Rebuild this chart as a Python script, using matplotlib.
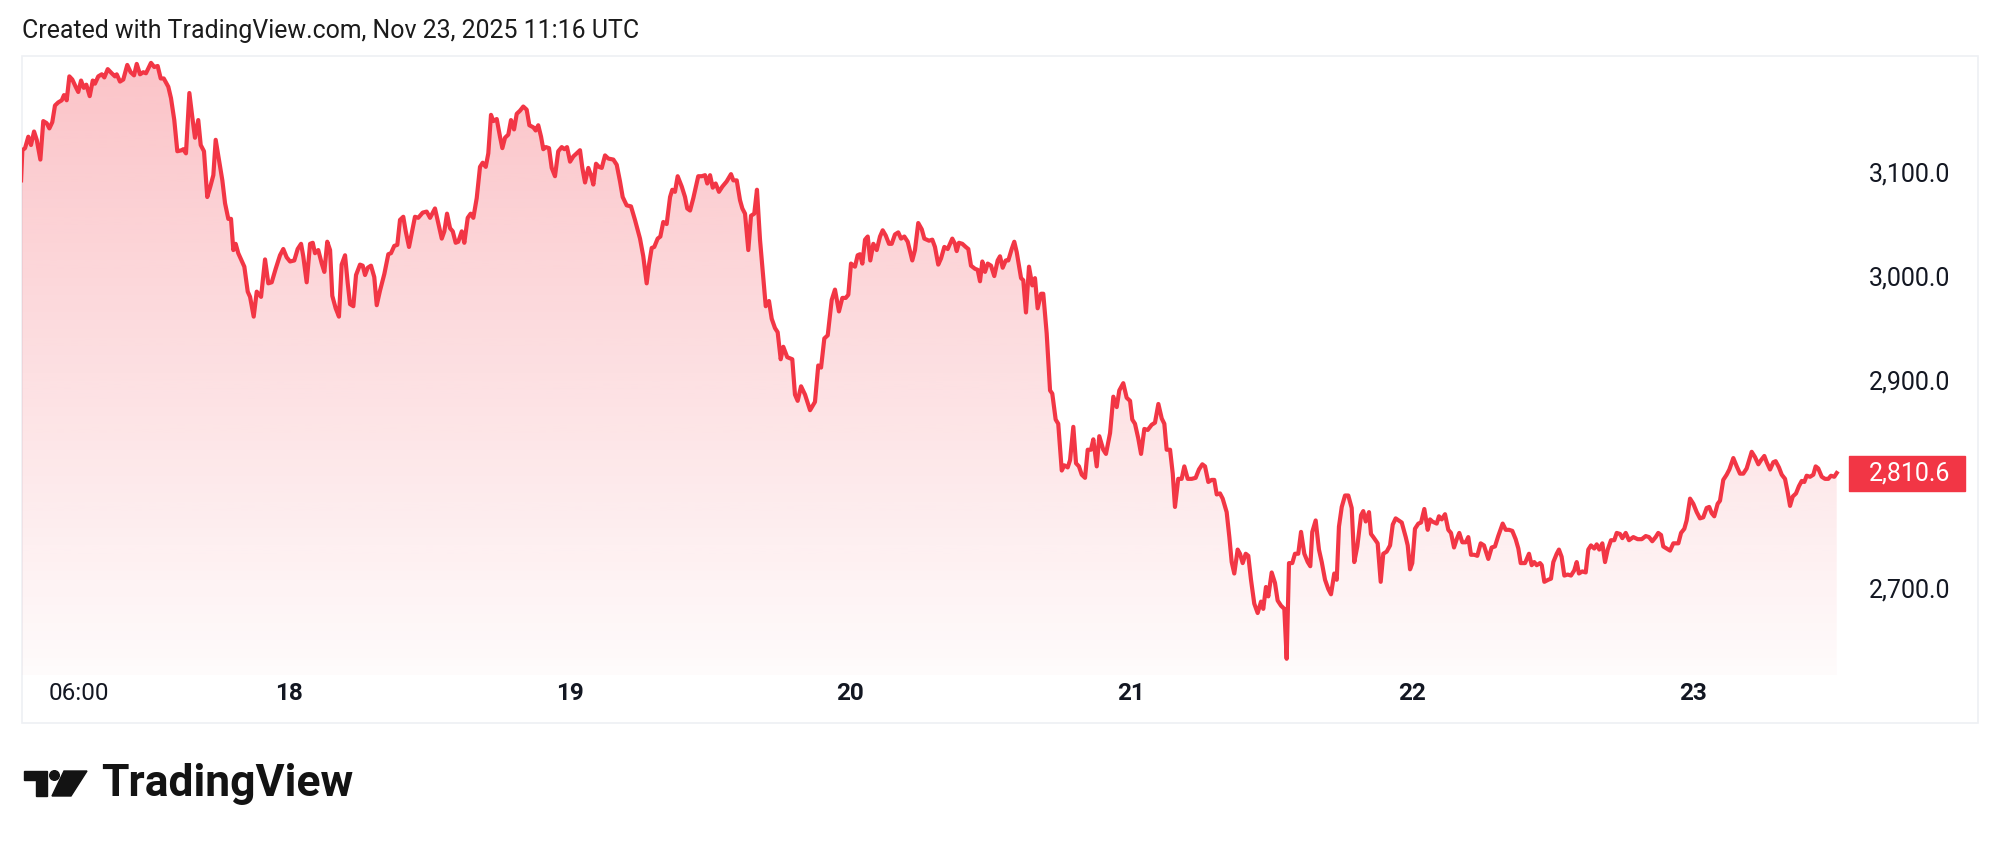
import numpy as np
import matplotlib
matplotlib.use("Agg")
import matplotlib.pyplot as plt
from matplotlib.patches import Rectangle, Polygon, Circle
from matplotlib.transforms import blended_transform_factory

plt.rcParams['font.family'] = ['Roboto', 'DejaVu Sans']

# hours since 2025-11-17 00:00
hours = [
    1.09, 1.20, 1.43, 1.71, 1.94, 2.20, 2.43, 2.74, 2.99, 3.28,
    3.51, 3.76, 3.99, 4.27, 4.57, 4.76, 4.99, 5.22, 5.47, 5.76,
    5.98, 6.22, 6.45, 6.67, 6.96, 7.22, 7.41, 7.69, 7.99, 8.21,
    8.50, 8.84, 9.12, 9.27, 9.55, 9.83, 10.17, 10.46, 10.75, 10.98,
    11.26, 11.54, 11.77, 12.20, 12.48, 12.77, 13.03, 13.29, 13.68, 13.91,
    14.19, 14.45, 14.83, 14.96, 15.19, 15.48, 15.73, 15.96, 16.24, 16.45,
    16.73, 17.01, 17.27, 17.53, 17.73, 18.01, 18.30, 18.53, 18.81, 19.04,
    19.24, 19.44, 19.66, 20.18, 20.47, 20.67, 20.98, 21.24, 21.61, 21.95,
    22.23, 22.52, 22.86, 23.23, 23.51, 23.80, 24.09, 24.45, 24.74, 25.03,
    25.22, 25.51, 25.80, 26.03, 26.22, 26.50, 26.80, 27.02, 27.27, 27.51,
    27.70, 27.99, 28.27, 28.50, 28.79, 29.02, 29.22, 29.50, 29.73, 30.07,
    30.30, 30.50, 30.73, 31.01, 31.29, 31.50, 31.78, 32.15, 32.49, 32.72,
    33.00, 33.26, 33.49, 33.77, 33.98, 34.26, 34.54, 34.77, 35.05, 35.43,
    35.77, 36.06, 36.48, 36.76, 37.06, 37.28, 37.51, 37.77, 38.00, 38.25,
    38.47, 38.77, 38.99, 39.28, 39.53, 39.76, 40.05, 40.33, 40.56, 40.82,
    41.04, 41.27, 41.47, 41.76, 42.04, 42.24, 42.47, 42.75, 42.98, 43.24,
    43.47, 43.75, 44.03, 44.32, 44.55, 44.89, 45.09, 45.31, 45.55, 45.74,
    45.97, 46.23, 46.46, 46.74, 47.02, 47.32, 47.54, 47.77, 48.03, 48.31,
    48.88, 49.08, 49.31, 49.59, 49.82, 50.02, 50.25, 50.50, 50.74, 51.02,
    51.30, 51.73, 52.02, 52.30, 52.53, 52.87, 53.24, 53.58, 54.01, 54.29,
    54.58, 54.78, 55.01, 55.23, 55.52, 55.75, 56.00, 56.29, 56.58, 56.77,
    57.00, 57.23, 57.58, 57.86, 58.05, 58.29, 58.57, 58.99, 59.29, 59.57,
    59.76, 60.00, 60.23, 60.48, 60.76, 61.05, 61.42, 61.79, 61.99, 62.28,
    62.56, 62.76, 62.99, 63.27, 63.50, 63.78, 64.01, 64.27, 64.55, 64.76,
    65.04, 65.27, 65.55, 65.78, 66.04, 66.26, 66.60, 67.03, 67.26, 67.49,
    67.78, 68.12, 68.55, 68.97, 69.25, 69.49, 69.77, 70.06, 70.40, 70.68,
    71.02, 71.31, 71.60, 71.82, 72.05, 72.39, 72.62, 72.82, 73.02, 73.25,
    73.48, 73.70, 73.96, 74.25, 74.53, 74.76, 75.02, 75.30, 75.53, 75.81,
    76.09, 76.33, 76.61, 76.90, 77.29, 77.52, 77.80, 78.10, 78.32, 78.72,
    79.00, 79.23, 79.51, 79.75, 80.03, 80.32, 80.71, 80.94, 81.09, 81.28,
    81.57, 81.86, 82.08, 82.31, 82.65, 82.88, 83.08, 83.28, 83.51, 83.74,
    84.02, 84.30, 84.59, 84.79, 85.02, 85.28, 85.50, 85.79, 86.01, 86.22,
    86.59, 86.78, 87.01, 87.27, 87.55, 87.78, 88.01, 88.30, 88.49, 88.78,
    89.07, 89.26, 89.55, 89.77, 90.07, 90.29, 90.58, 90.78, 91.06, 91.29,
    91.54, 91.78, 92.06, 92.29, 92.57, 92.77, 93.06, 93.28, 93.62, 93.85,
    94.20, 94.48, 94.77, 94.99, 95.33, 95.62, 95.91, 96.10, 96.33, 96.61,
    96.85, 97.13, 97.42, 97.76, 98.04, 98.33, 98.62, 98.84, 99.04, 99.33,
    99.56, 99.75, 100.03, 100.32, 100.55, 100.84, 101.18, 101.52, 101.80, 102.09,
    102.32, 102.60, 102.89, 103.11, 103.32, 103.60, 103.83, 104.17, 104.40, 104.60,
    104.82, 105.11, 105.31, 105.54, 105.80, 106.02, 106.25, 106.53, 106.82, 107.11,
    107.30, 107.53, 107.73, 108.02, 108.30, 108.53, 108.82, 109.10, 109.30, 109.50,
    109.78, 110.01, 110.29, 110.53, 110.81, 111.10, 111.32, 111.49, 111.78, 112.06,
    112.30, 112.58, 112.86, 113.09, 113.37, 113.58, 113.77, 114.01, 114.29, 114.57,
    114.86, 115.08, 115.34, 115.66, 115.85, 116.06, 116.34, 116.51, 116.71, 117.08,
    117.34, 117.56, 117.85, 118.14, 118.37, 118.62, 119.14, 119.48, 119.65, 119.85,
    120.04, 120.27, 120.56, 120.79, 121.07, 121.36, 121.56, 121.75, 122.13, 122.32,
    122.56, 122.84, 123.12, 123.35, 123.61, 123.84, 124.06, 124.32, 124.61, 124.83,
    125.06, 125.34, 125.60, 125.89, 126.17, 126.54, 126.83, 127.11, 127.39, 127.77,
    128.03, 128.31, 128.59, 128.88, 129.11, 129.31, 129.68, 130.02, 130.25, 130.47,
    130.68, 130.96, 131.11, 131.33, 131.67, 131.90, 132.10, 132.39, 132.58, 132.81,
    133.04, 133.33, 133.61, 133.89, 134.10, 134.29, 134.58, 134.87, 135.09, 135.32,
    135.60, 135.81, 136.03, 136.29, 136.52, 136.75, 137.03, 137.31, 137.52, 137.80,
    138.00, 138.29, 138.57, 138.94, 139.31, 139.66, 140.00, 140.28, 140.56, 140.85,
    141.07, 141.31, 141.50, 141.79, 142.08, 142.36, 142.79, 143.02, 143.30, 143.50,
    143.79, 144.07, 144.36, 144.64, 144.92, 145.21, 145.43, 145.64, 145.86, 146.15,
    146.35, 146.63, 146.92, 147.15, 147.49, 147.78, 148.06, 148.34, 148.63, 149.06,
    149.34, 149.63, 149.86, 150.14, 150.34, 150.63, 150.91, 151.11, 151.39, 151.63,
    151.91, 152.14, 152.34, 152.57, 152.85, 153.10, 153.34, 153.56, 153.76, 154.05,
    154.33, 154.53, 154.75, 155.05, 155.33, 155.61, 155.84, 156.12, 156.33,
]

prices = [
    3092, 3121, 3123, 3134, 3126, 3139, 3131, 3112, 3149, 3147,
    3142, 3148, 3164, 3167, 3169, 3174, 3169, 3192, 3189, 3182,
    3177, 3188, 3181, 3184, 3173, 3188, 3185, 3192, 3194, 3191,
    3199, 3195, 3192, 3194, 3187, 3189, 3203, 3196, 3193, 3204,
    3194, 3196, 3195, 3205, 3201, 3202, 3190, 3190, 3182, 3171,
    3150, 3120, 3121, 3122, 3118, 3176, 3153, 3133, 3150, 3126,
    3120, 3076, 3086, 3097, 3131, 3112, 3092, 3070, 3055, 3055,
    3025, 3031, 3022, 3009, 2985, 2980, 2961, 2985, 2980, 3016,
    2993, 2994, 3007, 3020, 3026, 3018, 3014, 3015, 3026, 3031,
    3019, 2994, 3031, 3032, 3022, 3025, 3012, 3004, 3033, 3025,
    2981, 2969, 2961, 3011, 3020, 2993, 2973, 2971, 3001, 3011,
    3010, 3001, 3008, 3010, 2999, 2972, 2986, 3002, 3021, 3022,
    3029, 3030, 3054, 3057, 3043, 3028, 3044, 3057, 3056, 3061,
    3062, 3056, 3065, 3051, 3036, 3043, 3060, 3046, 3043, 3032,
    3033, 3043, 3032, 3056, 3060, 3056, 3075, 3105, 3109, 3105,
    3118, 3155, 3149, 3151, 3134, 3123, 3133, 3136, 3150, 3141,
    3156, 3159, 3163, 3160, 3145, 3143, 3140, 3145, 3134, 3122,
    3124, 3123, 3104, 3096, 3120, 3124, 3122, 3124, 3110, 3115,
    3121, 3104, 3090, 3104, 3097, 3088, 3108, 3105, 3104, 3116,
    3113, 3112, 3107, 3091, 3076, 3068, 3067, 3054, 3036, 3019,
    2993, 3011, 3027, 3028, 3036, 3038, 3052, 3050, 3076, 3083,
    3081, 3096, 3086, 3076, 3065, 3063, 3075, 3096, 3096, 3097,
    3089, 3097, 3085, 3089, 3081, 3086, 3091, 3098, 3092, 3092,
    3073, 3065, 3060, 3025, 3058, 3060, 3083, 3035, 2999, 2971,
    2976, 2959, 2950, 2946, 2920, 2932, 2922, 2920, 2886, 2880,
    2894, 2886, 2871, 2879, 2914, 2912, 2940, 2943, 2977, 2987,
    2966, 2979, 2979, 2982, 3012, 3009, 3020, 3021, 3012, 3035,
    3038, 3015, 3031, 3025, 3038, 3044, 3039, 3031, 3031, 3040,
    3042, 3036, 3038, 3033, 3015, 3025, 3051, 3045, 3036, 3034,
    3035, 3028, 3011, 3017, 3028, 3026, 3036, 3031, 3024, 3032,
    3031, 3028, 3026, 3010, 3007, 3006, 2995, 3014, 3004, 3012,
    3010, 3000, 3015, 3019, 3008, 3015, 3015, 3026, 3033, 3023,
    2998, 2996, 2965, 3009, 2991, 2998, 2969, 2983, 2983, 2945,
    2890, 2887, 2862, 2858, 2813, 2818, 2816, 2823, 2855, 2820,
    2817, 2809, 2806, 2833, 2833, 2843, 2817, 2846, 2833, 2829,
    2849, 2884, 2874, 2890, 2897, 2883, 2880, 2862, 2858, 2844,
    2829, 2853, 2852, 2857, 2859, 2877, 2863, 2858, 2833, 2833,
    2810, 2778, 2805, 2805, 2817, 2805, 2805, 2806, 2814, 2819,
    2817, 2802, 2804, 2804, 2790, 2791, 2786, 2773, 2749, 2725,
    2714, 2737, 2733, 2724, 2733, 2731, 2708, 2685, 2676, 2687,
    2680, 2701, 2692, 2715, 2705, 2688, 2683, 2680, 2632, 2724,
    2724, 2733, 2733, 2754, 2733, 2725, 2721, 2754, 2765, 2737,
    2725, 2708, 2699, 2694, 2714, 2708, 2759, 2778, 2789, 2789,
    2777, 2725, 2740, 2770, 2774, 2764, 2773, 2752, 2749, 2743,
    2706, 2733, 2735, 2741, 2761, 2767, 2763, 2749, 2741, 2718,
    2724, 2757, 2762, 2763, 2776, 2756, 2766, 2764, 2762, 2769,
    2766, 2771, 2756, 2753, 2739, 2747, 2753, 2744, 2744, 2749,
    2732, 2732, 2731, 2743, 2741, 2728, 2739, 2740, 2750, 2762,
    2756, 2756, 2755, 2747, 2738, 2724, 2724, 2733, 2722, 2725,
    2722, 2724, 2722, 2706, 2708, 2709, 2725, 2733, 2737, 2730,
    2712, 2713, 2712, 2717, 2725, 2714, 2716, 2715, 2737, 2741,
    2738, 2742, 2737, 2743, 2725, 2737, 2746, 2746, 2753, 2752,
    2748, 2753, 2746, 2749, 2747, 2747, 2750, 2749, 2745, 2749,
    2753, 2751, 2740, 2738, 2736, 2743, 2743, 2753, 2757, 2765,
    2786, 2781, 2773, 2767, 2768, 2777, 2778, 2772, 2769, 2781,
    2784, 2804, 2809, 2814, 2825, 2817, 2810, 2810, 2815, 2831,
    2826, 2819, 2823, 2827, 2821, 2814, 2821, 2822, 2816, 2809,
    2805, 2792, 2779, 2788, 2791, 2798, 2803, 2802, 2808, 2807,
    2809, 2817, 2815, 2807, 2805, 2805, 2808, 2807, 2810.6,
]

tick_hours = [6, 24, 48, 72, 96, 120, 144]
tick_labels = ['06:00', '18', '19', '20', '21', '22', '23']
# 2,800.0 sits behind the last-price tag, so it is left out
price_ticks = [2700, 2900, 3000, 3100]

red = '#F23645'
text_col = '#131722'
W, H = 1999, 850

fig = plt.figure(figsize=(W / 100, H / 100), dpi=100)
fig.patch.set_facecolor('white')

# overlay in pixel coords for frame, header and logo
ov = fig.add_axes([0, 0, 1, 1], zorder=0)
ov.set_xlim(0, W)
ov.set_ylim(H, 0)
ov.axis('off')
ov.add_patch(Rectangle((22, 56), 1956, 667, fill=False, edgecolor='#eef0f4', lw=1.2))
ov.text(22, 31, 'Created with TradingView.com, Nov 23, 2025 11:16 UTC',
        fontsize=17.9, color='#1b1b1b', va='center', ha='left')
# TradingView logo
ov.add_patch(Polygon([(24, 771), (47, 771), (47, 796), (36, 796), (36, 780), (24, 780)],
                     closed=True, color='#131313'))
ov.add_patch(Circle((54.5, 775.5), 4.8, color='#131313'))
ov.add_patch(Polygon([(64, 771), (87, 771), (71, 796), (52, 796)], closed=True, color='#131313'))
ov.text(101, 796, 'TradingView', fontsize=32, fontweight='bold', color='#131313',
        va='baseline', ha='left')

# main pane
ax = fig.add_axes([22 / W, 1 - 675 / H, 1956 / W, 619 / H], zorder=2)
ax.set_facecolor('none')
for s in ax.spines.values():
    s.set_visible(False)

y_lo, y_hi = 2616.4, 3211.6
x_lo, x_hi = 1.17, 168.41

ax.plot(hours, prices, color=red, lw=3.0, solid_joinstyle='round', zorder=4)

# gradient area under the line
poly = ax.fill_between(hours, prices, y_lo, facecolor='none', edgecolor='none')
grad = np.linspace(1, 0, 256).reshape(-1, 1)
rgba = np.zeros((256, 1, 4))
rgba[..., 0] = 242 / 255
rgba[..., 1] = 54 / 255
rgba[..., 2] = 69 / 255
rgba[..., 3] = 0.02 + 0.28 * grad
im = ax.imshow(rgba, extent=[hours[0], hours[-1], y_lo, y_hi], aspect='auto',
               origin='upper', zorder=3)
im.set_clip_path(poly.get_paths()[0], transform=ax.transData)

ax.set_xlim(x_lo, x_hi)
ax.set_ylim(y_lo, y_hi)

ax.set_xticks(tick_hours, labels=tick_labels)
ax.tick_params(axis='x', length=0, pad=5, labelsize=17.5, labelcolor=text_col)
for lbl in ax.get_xticklabels()[1:]:
    lbl.set_fontweight('bold')

ax.set_yticks(price_ticks, labels=[f'{v:,.1f}' for v in price_ticks])
ax.yaxis.tick_right()
ax.tick_params(axis='y', length=0, pad=-20.2, labelsize=18, labelcolor=text_col)
for t in ax.yaxis.get_major_ticks():
    t.label2.set_horizontalalignment('right')

# last price label
last = prices[-1]
bt = blended_transform_factory(ax.transAxes, ax.transData)
box_h = 35 * (y_hi - y_lo) / 619
ax.add_patch(Rectangle(((1849 - 22) / 1956, last - box_h / 2), 116 / 1956, box_h,
                       transform=bt, color=red, zorder=5, clip_on=False))
ax.text((1950 - 22) / 1956, last, f'{last:,.1f}', transform=bt, ha='right',
        va='center', color='white', fontsize=18, zorder=6)

fig.savefig('out.png', dpi=100, facecolor='white')
